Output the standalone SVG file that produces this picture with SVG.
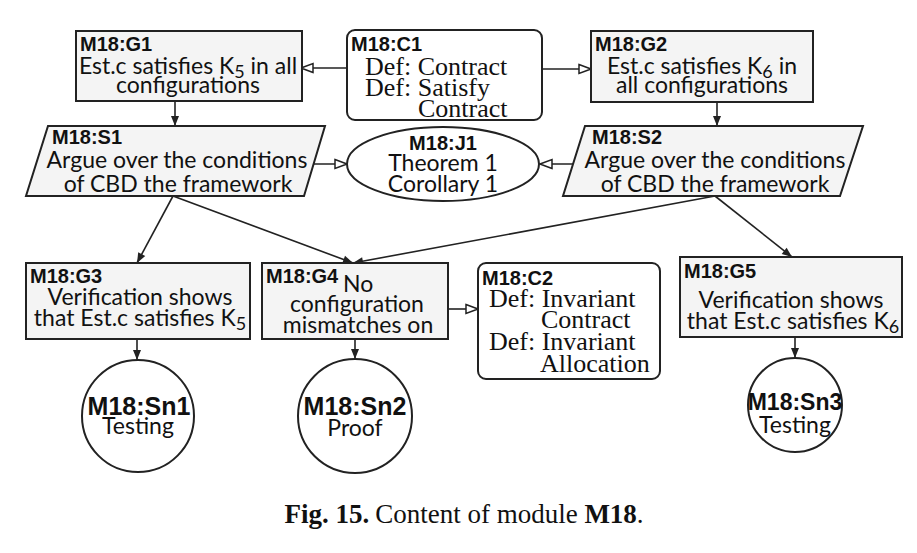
<svg xmlns="http://www.w3.org/2000/svg" width="917" height="553" viewBox="0 0 917 553">
<style>
.box{fill:#f4f4f4;stroke:#222;stroke-width:2}
.ctx{fill:#fff;stroke:#222;stroke-width:2}
.t{font-family:"Liberation Sans",Arial,sans-serif;font-weight:bold;font-size:20px;fill:#111}
.st{font-family:"Liberation Sans",Arial,sans-serif;font-weight:bold;font-size:25px;fill:#111;text-anchor:middle}
.b{font-family:Lato,"Open Sans",sans-serif;font-size:23px;fill:#111}
.m{text-anchor:middle}
.s{font-family:"Liberation Serif","Times New Roman",serif;font-size:26px;fill:#111}
.e{stroke:#222;stroke-width:1.6;fill:none}
.sol{marker-end:url(#fa)}
.hol{marker-end:url(#ha)}
</style>
<defs>
<marker id="fa" markerUnits="userSpaceOnUse" markerWidth="12" markerHeight="10" refX="11" refY="5" orient="auto">
<path d="M1,1 L11,5 L1,9 z" fill="#222"/>
</marker>
<marker id="ha" markerUnits="userSpaceOnUse" markerWidth="14" markerHeight="12" refX="13" refY="6" orient="auto">
<path d="M1,1.5 L13,6 L1,10.5 z" fill="#fff" stroke="#222" stroke-width="1.5"/>
</marker>
</defs>
<rect width="917" height="553" fill="#fff"/>
<g id="connectors">
<line class="e hol" x1="347" y1="68" x2="301" y2="68"/>
<line class="e hol" x1="542" y1="69" x2="591" y2="69"/>
<line class="e sol" x1="175" y1="101" x2="175" y2="126"/>
<line class="e sol" x1="717" y1="102" x2="717" y2="126"/>
<line class="e hol" x1="314" y1="164" x2="347" y2="164"/>
<line class="e hol" x1="574" y1="164" x2="540" y2="164"/>
<line class="e sol" x1="173" y1="196" x2="137" y2="263"/>
<line class="e sol" x1="173" y1="196" x2="353" y2="263"/>
<line class="e sol" x1="715" y1="196" x2="353" y2="263"/>
<line class="e sol" x1="715" y1="196" x2="792" y2="257"/>
<line class="e hol" x1="448" y1="309" x2="478" y2="309"/>
<line class="e sol" x1="137" y1="339" x2="137" y2="360"/>
<line class="e sol" x1="355" y1="339" x2="355" y2="359"/>
<line class="e sol" x1="795" y1="337" x2="795" y2="358"/>
</g>
<g id="G1">
<rect class="box" x="76" y="31" width="226" height="70"/>
<text class="t" x="80" y="51">M18:G1</text>
<text class="b m" x="188" y="74">Est.c satisfies K<tspan font-size="18" dy="4">5</tspan><tspan dy="-4"> in all</tspan></text>
<text class="b m" x="188" y="93">configurations</text>
</g>
<g id="C1">
<rect class="ctx" x="347" y="30" width="195" height="90" rx="8"/>
<text class="t" x="351" y="51">M18:C1</text>
<text class="s" x="365" y="75">Def: Contract</text>
<text class="s" x="365" y="96">Def: Satisfy</text>
<text class="s" x="418" y="117">Contract</text>
</g>
<g id="G2">
<rect class="box" x="591" y="31" width="222" height="71"/>
<text class="t" x="595" y="51">M18:G2</text>
<text class="b m" x="702" y="74">Est.c satisfies K<tspan font-size="18" dy="4">6</tspan><tspan dy="-4"> in</tspan></text>
<text class="b m" x="702" y="93">all configurations</text>
</g>
<g id="S1">
<polygon class="box" points="48,126 325,126 304,196 26,196"/>
<text class="t" x="52" y="144">M18:S1</text>
<text class="b m" x="177" y="168">Argue over the conditions</text>
<text class="b m" x="178" y="192">of CBD the framework</text>
</g>
<g id="J1">
<ellipse class="ctx" cx="443" cy="164" rx="96" ry="37"/>
<text class="t m" x="443" y="150">M18:J1</text>
<text class="b m" x="443" y="171">Theorem 1</text>
<text class="b m" x="443" y="192">Corollary 1</text>
</g>
<g id="S2">
<polygon class="box" points="585,126 863,126 840,196 563,196"/>
<text class="t" x="592" y="144">M18:S2</text>
<text class="b m" x="715" y="168">Argue over the conditions</text>
<text class="b m" x="715" y="192">of CBD the framework</text>
</g>
<g id="G3">
<rect class="box" x="26" y="263" width="224" height="76"/>
<text class="t" x="30" y="283">M18:G3</text>
<text class="b m" x="140" y="305">Verification shows</text>
<text class="b m" x="140" y="326">that Est.c satisfies K<tspan font-size="18" dy="4">5</tspan></text>
</g>
<g id="G4">
<rect class="box" x="262" y="263" width="186" height="76"/>
<text class="t" x="266" y="283">M18:G4</text>
<text class="b" x="343" y="292">No</text>
<text class="b m" x="357" y="312">configuration</text>
<text class="b m" x="358" y="333">mismatches on</text>
</g>
<g id="C2">
<rect class="ctx" x="478" y="263" width="182" height="116" rx="8"/>
<text class="t" x="482" y="285">M18:C2</text>
<text class="s" x="489" y="307">Def: Invariant</text>
<text class="s" x="541" y="328">Contract</text>
<text class="s" x="489" y="350">Def: Invariant</text>
<text class="s" x="540" y="372">Allocation</text>
</g>
<g id="G5">
<rect class="box" x="680" y="257" width="222" height="80"/>
<text class="t" x="684" y="278">M18:G5</text>
<text class="b m" x="791" y="308">Verification shows</text>
<text class="b m" x="793" y="329">that Est.c satisfies K<tspan font-size="18" dy="4">6</tspan></text>
</g>
<g id="Sn1">
<circle class="ctx" cx="138" cy="416" r="56"/>
<text class="st" x="139" y="415">M18:Sn1</text>
<text class="b m" x="138" y="434">Testing</text>
</g>
<g id="Sn2">
<circle class="ctx" cx="355" cy="416" r="57"/>
<text class="st" x="355" y="415">M18:Sn2</text>
<text class="b m" x="355" y="436">Proof</text>
</g>
<g id="Sn3">
<circle class="ctx" cx="795" cy="405" r="47"/>
<text class="st" x="795" y="410" style="font-size:23px">M18:Sn3</text>
<text class="b m" x="795" y="433">Testing</text>
</g>
<text x="464" y="523" text-anchor="middle" style="font-family:'Liberation Serif','Times New Roman',serif;font-size:27px;fill:#111"><tspan font-weight="bold">Fig. 15.</tspan><tspan dx="6">Content of module </tspan><tspan font-weight="bold">M18</tspan>.</text>
</svg>
